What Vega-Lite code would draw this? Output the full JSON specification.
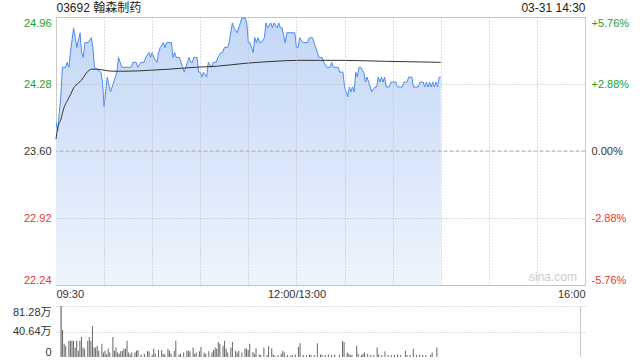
{
  "$schema": "https://vega.github.io/schema/vega-lite/v6.json",
  "padding": 0,
  "background": "white",
  "spacing": 4,
  "config": {
    "view": {"stroke": null},
    "font": "Liberation Sans",
    "axis": {"labelFont": "Liberation Sans", "labelFontSize": 11, "labelColor": "#333333", "ticks": false, "domain": false}
  },
  "datasets": {
    "price": [
      {"m":0,"p":23.90},{"m":1,"p":23.80},{"m":3,"p":24.15},{"m":4,"p":24.45},{"m":6,"p":24.45},{"m":7,"p":24.50},{"m":8,"p":24.45},{"m":9,"p":24.60},{"m":11,"p":24.85},{"m":12,"p":24.75},{"m":13,"p":24.65},{"m":15,"p":24.80},{"m":16,"p":24.60},{"m":17,"p":24.55},{"m":18,"p":24.70},{"m":20,"p":24.70},{"m":22,"p":24.75},{"m":23,"p":24.65},{"m":24,"p":24.45},{"m":28,"p":24.40},{"m":29,"p":24.30},{"m":30,"p":24.05},{"m":31,"p":24.20},{"m":32,"p":24.35},{"m":34,"p":24.20},{"m":36,"p":24.30},{"m":38,"p":24.40},{"m":39,"p":24.55},{"m":41,"p":24.45},{"m":47,"p":24.45},{"m":48,"p":24.50},{"m":50,"p":24.50},{"m":51,"p":24.45},{"m":53,"p":24.50},{"m":55,"p":24.50},{"m":56,"p":24.55},{"m":58,"p":24.60},{"m":59,"p":24.55},{"m":60,"p":24.60},{"m":61,"p":24.55},{"m":63,"p":24.50},{"m":64,"p":24.60},{"m":65,"p":24.65},{"m":67,"p":24.70},{"m":68,"p":24.65},{"m":69,"p":24.70},{"m":72,"p":24.70},{"m":73,"p":24.55},{"m":74,"p":24.60},{"m":75,"p":24.55},{"m":77,"p":24.55},{"m":79,"p":24.45},{"m":80,"p":24.40},{"m":81,"p":24.45},{"m":83,"p":24.55},{"m":84,"p":24.50},{"m":85,"p":24.50},{"m":86,"p":24.55},{"m":88,"p":24.55},{"m":89,"p":24.40},{"m":90,"p":24.40},{"m":91,"p":24.35},{"m":92,"p":24.40},{"m":94,"p":24.35},{"m":95,"p":24.50},{"m":97,"p":24.45},{"m":98,"p":24.50},{"m":100,"p":24.50},{"m":101,"p":24.55},{"m":103,"p":24.60},{"m":104,"p":24.60},{"m":105,"p":24.65},{"m":107,"p":24.65},{"m":108,"p":24.70},{"m":110,"p":24.90},{"m":111,"p":24.85},{"m":113,"p":24.80},{"m":114,"p":24.85},{"m":115,"p":24.90},{"m":116,"p":24.95},{"m":118,"p":24.95},{"m":119,"p":24.90},{"m":120,"p":24.70},{"m":121,"p":24.70},{"m":123,"p":24.60},{"m":124,"p":24.75},{"m":125,"p":24.70},{"m":126,"p":24.75},{"m":127,"p":24.70},{"m":128,"p":24.70},{"m":130,"p":24.75},{"m":131,"p":24.90},{"m":132,"p":24.85},{"m":134,"p":24.90},{"m":135,"p":24.85},{"m":136,"p":24.90},{"m":138,"p":24.85},{"m":139,"p":24.90},{"m":140,"p":24.85},{"m":141,"p":24.85},{"m":143,"p":24.70},{"m":144,"p":24.80},{"m":149,"p":24.80},{"m":150,"p":24.65},{"m":151,"p":24.65},{"m":152,"p":24.75},{"m":154,"p":24.70},{"m":157,"p":24.70},{"m":158,"p":24.75},{"m":160,"p":24.75},{"m":161,"p":24.70},{"m":164,"p":24.55},{"m":166,"p":24.55},{"m":167,"p":24.50},{"m":169,"p":24.45},{"m":171,"p":24.45},{"m":172,"p":24.50},{"m":173,"p":24.45},{"m":176,"p":24.45},{"m":177,"p":24.40},{"m":179,"p":24.40},{"m":180,"p":24.25},{"m":181,"p":24.20},{"m":182,"p":24.15},{"m":183,"p":24.25},{"m":184,"p":24.20},{"m":185,"p":24.25},{"m":186,"p":24.20},{"m":187,"p":24.40},{"m":188,"p":24.35},{"m":189,"p":24.45},{"m":190,"p":24.45},{"m":192,"p":24.40},{"m":193,"p":24.30},{"m":194,"p":24.35},{"m":195,"p":24.30},{"m":197,"p":24.20},{"m":199,"p":24.25},{"m":200,"p":24.25},{"m":201,"p":24.35},{"m":202,"p":24.30},{"m":203,"p":24.35},{"m":204,"p":24.30},{"m":205,"p":24.35},{"m":206,"p":24.25},{"m":208,"p":24.25},{"m":209,"p":24.30},{"m":212,"p":24.30},{"m":213,"p":24.25},{"m":216,"p":24.25},{"m":217,"p":24.30},{"m":219,"p":24.30},{"m":220,"p":24.35},{"m":222,"p":24.35},{"m":223,"p":24.25},{"m":226,"p":24.25},{"m":227,"p":24.30},{"m":229,"p":24.30},{"m":230,"p":24.25},{"m":231,"p":24.30},{"m":232,"p":24.25},{"m":233,"p":24.30},{"m":234,"p":24.25},{"m":235,"p":24.30},{"m":236,"p":24.25},{"m":237,"p":24.30},{"m":238,"p":24.25},{"m":239,"p":24.35},{"m":240,"p":24.35}
    ],
    "avg": [
      {"m":0,"a":23.72},{"m":1,"a":23.83},{"m":3,"a":23.92},{"m":5,"a":24.04},{"m":7,"a":24.11},{"m":9,"a":24.17},{"m":11,"a":24.24},{"m":14,"a":24.29},{"m":16,"a":24.32},{"m":18,"a":24.37},{"m":20,"a":24.41},{"m":22,"a":24.43},{"m":26,"a":24.43},{"m":30,"a":24.42},{"m":35,"a":24.41},{"m":45,"a":24.41},{"m":59,"a":24.42},{"m":70,"a":24.43},{"m":87,"a":24.45},{"m":100,"a":24.46},{"m":118,"a":24.49},{"m":136,"a":24.51},{"m":151,"a":24.52},{"m":178,"a":24.52},{"m":206,"a":24.51},{"m":240,"a":24.50}
    ],
    "vol": [
      {"m":0,"v":90},{"m":1,"v":43},{"m":2,"v":21},{"m":3,"v":18},{"m":5,"v":26},{"m":6,"v":26},{"m":7,"v":26},{"m":8,"v":26},{"m":9,"v":15},{"m":10,"v":26},{"m":11,"v":10},{"m":12,"v":26},{"m":13,"v":32},{"m":14,"v":15},{"m":15,"v":13},{"m":17,"v":26},{"m":18,"v":32},{"m":19,"v":26},{"m":20,"v":49},{"m":21,"v":15},{"m":22,"v":15},{"m":23,"v":18},{"m":24,"v":10},{"m":26,"v":21},{"m":27,"v":7},{"m":28,"v":10},{"m":29,"v":4},{"m":30,"v":13},{"m":31,"v":7},{"m":33,"v":32},{"m":34,"v":10},{"m":35,"v":15},{"m":36,"v":7},{"m":37,"v":5},{"m":38,"v":9},{"m":39,"v":10},{"m":40,"v":13},{"m":41,"v":13},{"m":42,"v":26},{"m":43,"v":7},{"m":44,"v":4},{"m":45,"v":7},{"m":47,"v":7},{"m":48,"v":10},{"m":49,"v":11},{"m":51,"v":4},{"m":53,"v":5},{"m":55,"v":9},{"m":56,"v":9},{"m":58,"v":4},{"m":59,"v":13},{"m":60,"v":5},{"m":62,"v":11},{"m":64,"v":11},{"m":65,"v":5},{"m":66,"v":4},{"m":68,"v":13},{"m":69,"v":10},{"m":70,"v":5},{"m":72,"v":10},{"m":73,"v":26},{"m":75,"v":4},{"m":76,"v":5},{"m":78,"v":7},{"m":80,"v":10},{"m":81,"v":10},{"m":82,"v":9},{"m":84,"v":15},{"m":85,"v":5},{"m":86,"v":7},{"m":88,"v":9},{"m":89,"v":16},{"m":91,"v":7},{"m":92,"v":5},{"m":94,"v":9},{"m":96,"v":7},{"m":97,"v":11},{"m":98,"v":15},{"m":99,"v":13},{"m":100,"v":24},{"m":101,"v":21},{"m":103,"v":18},{"m":104,"v":26},{"m":105,"v":13},{"m":106,"v":7},{"m":108,"v":15},{"m":109,"v":24},{"m":111,"v":10},{"m":112,"v":7},{"m":113,"v":10},{"m":115,"v":7},{"m":117,"v":14},{"m":118,"v":13},{"m":119,"v":11},{"m":120,"v":21},{"m":122,"v":8},{"m":123,"v":5},{"m":124,"v":14},{"m":126,"v":4},{"m":127,"v":3},{"m":129,"v":15},{"m":131,"v":3},{"m":132,"v":17},{"m":134,"v":14},{"m":135,"v":4},{"m":136,"v":2},{"m":138,"v":3},{"m":140,"v":5},{"m":141,"v":10},{"m":142,"v":7},{"m":144,"v":3},{"m":146,"v":2},{"m":147,"v":3},{"m":149,"v":4},{"m":151,"v":16},{"m":152,"v":22},{"m":154,"v":3},{"m":156,"v":3},{"m":158,"v":4},{"m":159,"v":3},{"m":161,"v":3},{"m":163,"v":22},{"m":165,"v":4},{"m":166,"v":3},{"m":168,"v":3},{"m":170,"v":4},{"m":172,"v":3},{"m":174,"v":4},{"m":177,"v":4},{"m":179,"v":25},{"m":180,"v":24},{"m":182,"v":7},{"m":183,"v":5},{"m":184,"v":3},{"m":185,"v":3},{"m":188,"v":18},{"m":189,"v":5},{"m":191,"v":3},{"m":192,"v":5},{"m":193,"v":7},{"m":195,"v":5},{"m":197,"v":3},{"m":199,"v":3},{"m":201,"v":15},{"m":202,"v":4},{"m":204,"v":3},{"m":206,"v":9},{"m":208,"v":3},{"m":210,"v":3},{"m":212,"v":3},{"m":214,"v":4},{"m":216,"v":3},{"m":219,"v":10},{"m":220,"v":3},{"m":222,"v":3},{"m":224,"v":13},{"m":226,"v":3},{"m":228,"v":4},{"m":230,"v":3},{"m":232,"v":3},{"m":235,"v":3},{"m":236,"v":7},{"m":239,"v":15}
    ]
  },
  "vconcat": [
    {
      "width": 529,
      "height": 268,
      "view": {"stroke": "#cccccc"},
      "layer": [
        {
          "data": {"name": "price"},
          "mark": {"type": "area", "clip": true, "color": {"gradient": "linear", "x1": 0, "y1": 0, "x2": 0, "y2": 1, "stops": [{"offset": 0, "color": "#c3d7f6"}, {"offset": 1, "color": "#eef4fd"}]}},
          "encoding": {
            "x": {"field": "m", "type": "quantitative", "scale": {"domain": [0, 330], "nice": false, "zero": false},
              "axis": {"title": null, "zindex": 1, "values": [0,30,60,90,120,150,180,210,240,270,300,330],
                "labelExpr": "datum.value == 0 ? '09:30' : datum.value == 150 ? '12:00/13:00' : datum.value == 330 ? '16:00' : ''",
                "labelFlush": true, "labelOverlap": false, "labelPadding": 3, "grid": true, "gridColor": "#bbbbbb", "gridDash": [1, 2],
                "gridOpacity": {"condition": {"test": "datum.value == 0 || datum.value == 330", "value": 0}, "value": 1},
                "minExtent": 16, "maxExtent": 16}},
            "y": {"field": "p", "type": "quantitative", "scale": {"domain": [22.24, 24.96], "nice": false, "zero": false},
              "axis": {"title": null, "zindex": 1, "values": [22.24, 22.92, 23.6, 24.28, 24.96], "labelExpr": "format(datum.value, '.2f')",
                "labelFlush": true, "labelPadding": 5, "grid": true, "gridColor": "#b8b8b8", "gridDash": [1, 2],
                "labelColor": {"condition": [{"test": "datum.value > 23.61", "value": "#23a323"}, {"test": "datum.value < 23.59", "value": "#ee3333"}], "value": "#333333"},
                "minExtent": 55, "maxExtent": 55}},
            "y2": {"datum": 22.24}
          }
        },
        {
          "data": {"values": [{}]},
          "mark": {"type": "rule", "color": "#aaaaaa", "strokeWidth": 1, "strokeDash": [3, 3]},
          "encoding": {
            "y": {"datum": 23.6, "type": "quantitative", "axis": null}
          }
        },
        {
          "data": {"name": "price"},
          "mark": {"type": "line", "color": "#4a8af4", "strokeWidth": 1, "clip": true},
          "encoding": {
            "x": {"field": "m", "type": "quantitative", "axis": null},
            "y": {"field": "p", "type": "quantitative",
              "axis": {"title": null, "orient": "right", "values": [22.24, 22.92, 23.6, 24.28, 24.96],
                "labelExpr": "(datum.value > 23.61 ? '+' : datum.value < 23.59 ? '-' : '') + format(abs(datum.value - 23.6) / 23.6 * 100, '.2f') + '%'",
                "labelFlush": true, "labelPadding": 6, "grid": false,
                "labelColor": {"condition": [{"test": "datum.value > 23.61", "value": "#23a323"}, {"test": "datum.value < 23.59", "value": "#ee3333"}], "value": "#333333"},
                "minExtent": 56, "maxExtent": 56}}
          }
        },
        {
          "data": {"name": "avg"},
          "mark": {"type": "line", "color": "#333333", "strokeWidth": 1, "interpolate": "monotone"},
          "encoding": {
            "x": {"field": "m", "type": "quantitative",
              "axis": {"title": null, "orient": "top", "values": [0, 330],
                "labelExpr": "datum.value == 0 ? '03692 翰森制药' : '03-31 14:30'",
                "labelFont": "Liberation Sans, Noto Sans CJK SC", "labelFontSize": 12, "labelColor": "#222222",
                "labelFlush": true, "labelPadding": 3, "grid": false, "minExtent": 16, "maxExtent": 16}},
            "y": {"field": "a", "type": "quantitative", "axis": null}
          }
        },
        {
          "data": {"values": [{}]},
          "mark": {"type": "text", "align": "right", "baseline": "bottom", "dx": -8, "dy": -1, "color": "#cccccc", "fontSize": 12, "font": "Liberation Sans"},
          "encoding": {
            "x": {"datum": 330, "type": "quantitative", "axis": null},
            "y": {"datum": 22.24, "type": "quantitative", "axis": null},
            "text": {"value": "sina.com"}
          }
        }
      ],
      "resolve": {"axis": {"x": "independent", "y": "independent"}}
    },
    {
      "width": 529,
      "height": 51,
      "data": {"name": "vol"},
      "mark": {"type": "bar", "width": 1, "color": "#666666", "clip": true},
      "encoding": {
        "x": {"field": "m", "type": "quantitative", "scale": {"domain": [0, 330], "nice": false, "zero": false},
          "axis": {"title": null, "values": [0, 330], "labels": false, "grid": true, "gridColor": "#cccccc", "minExtent": 0, "maxExtent": 0}},
        "y": {"field": "v", "type": "quantitative", "scale": {"domain": [0, 81.28], "nice": false},
          "axis": {"title": null, "values": [0, 40.64, 81.28],
            "labelExpr": "datum.value == 0 ? '0' : format(datum.value, '.2f') + '万'",
            "labelFont": "Liberation Sans, Noto Sans CJK SC",
            "labelFlush": true, "labelPadding": 5, "grid": true, "gridColor": "#bbbbbb", "gridDash": [1, 2],
            "minExtent": 55, "maxExtent": 55}}
      }
    }
  ]
}
